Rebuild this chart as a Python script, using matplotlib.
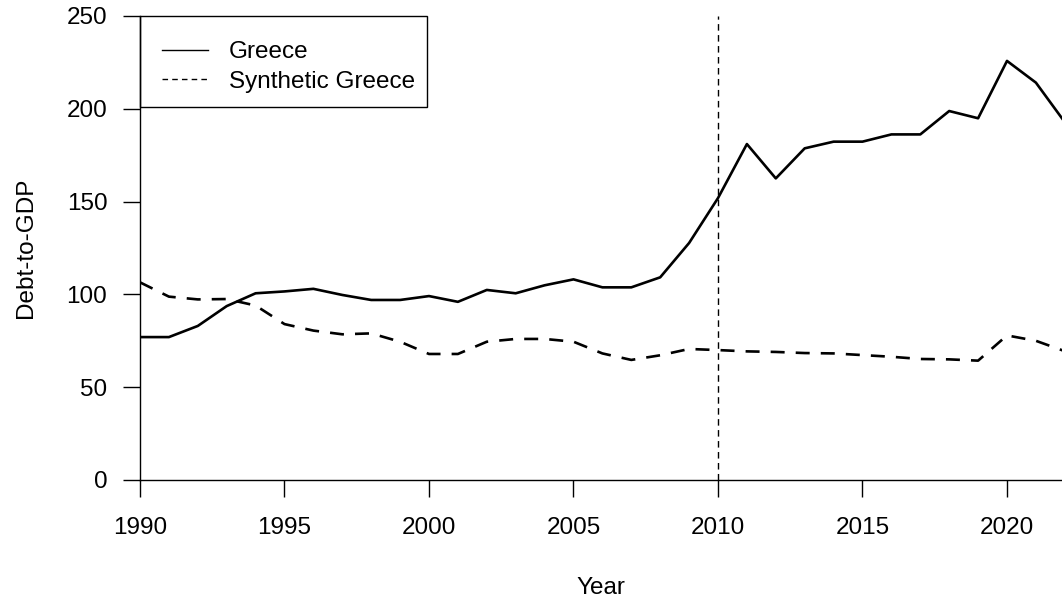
import matplotlib
matplotlib.use("Agg")
import matplotlib.pyplot as plt
from matplotlib.lines import Line2D
from matplotlib.patches import Rectangle

plt.rcParams["font.family"] = ["Liberation Sans", "DejaVu Sans"]

years = list(range(1990, 2023))
greece = [77, 77, 83, 93.7, 100.6, 101.6, 103, 99.7, 97, 97, 99.1, 96, 102.4, 100.6,
          104.9, 108.1, 103.8, 103.8, 109.2, 127.7, 151.9, 181, 162.5, 178.7, 182.3,
          182.3, 186.2, 186.2, 198.8, 194.9, 225.8, 214.1, 192.8]
synthetic = [106.5, 98.8, 97.3, 97.5, 94, 84, 80.5, 78.5, 79, 74.5, 67.9, 67.9, 74.5,
             76, 76, 74.5, 68.2, 64.7, 67.2, 70.6, 70, 69.3, 69, 68.4, 68.2, 67.3, 66.4,
             65.2, 65, 64.3, 77.9, 75, 69.4]
treat_year = 2010
xticks = [1990, 1995, 2000, 2005, 2010, 2015, 2020]
yticks = [0, 50, 100, 150, 200, 250]
labels = ["Greece", "Synthetic Greece"]

fs = 17.5
fig = plt.figure(figsize=(10.62, 6.01), dpi=100)
ax = fig.add_axes([140 / 1062, 1 - 480 / 601, 1 - 140 / 1062, (480 - 16) / 601])

ax.plot(years, greece, color="black", lw=1.9)
ax.plot(years, synthetic, color="black", lw=1.9, dashes=(5.3, 4.2))
ax.axvline(treat_year, color="black", lw=1.0, dashes=(4.7, 3.2))

ax.set_xlim(1990, 1990 + (1062 - 140) / 28.9)
ax.set_ylim(0, 250)
ax.set_xticks(xticks)
ax.set_yticks(yticks)
for s in ["top", "right"]:
    ax.spines[s].set_visible(False)
for s in ["left", "bottom"]:
    ax.spines[s].set_linewidth(1.0)
ax.tick_params(length=12, width=1.0, labelsize=fs, colors="black")
ax.tick_params(axis="x", pad=15)
ax.tick_params(axis="y", pad=11.5)

ax.set_xlabel("Year", fontsize=fs, labelpad=27)
ax.set_ylabel("Debt-to-GDP", fontsize=fs, labelpad=21)

# legend box drawn separately (R-style padding)
ax.add_patch(Rectangle((0, 1 - (107 - 16) / 464), (427 - 140) / 922, (107 - 16) / 464,
                       transform=ax.transAxes, fill=False, edgecolor="black", lw=1.0,
                       clip_on=False, zorder=4))
handles = [Line2D([], [], color="black", lw=1.0),
           Line2D([], [], color="black", lw=1.0, dashes=(4.0, 3.0))]
ax.legend(handles, labels, loc="upper left", bbox_to_anchor=((162 - 140) / 922, 1 - (41 - 16) / 464),
          borderaxespad=0, borderpad=0, fontsize=fs, frameon=False,
          handlelength=1.9, handletextpad=0.86, labelspacing=0.32)

fig.savefig("out.png", dpi=100)
